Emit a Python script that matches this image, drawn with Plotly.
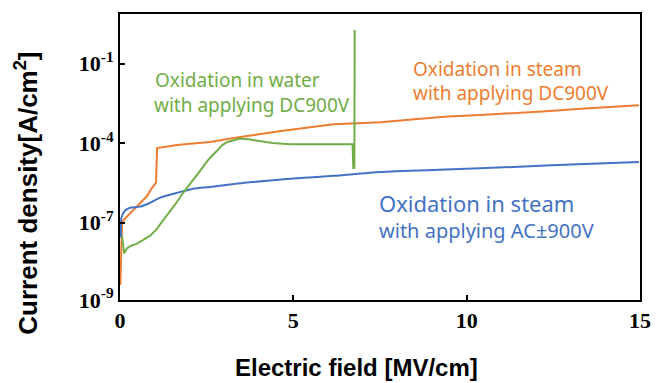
import plotly.graph_objects as go

# Electric field [MV/cm] and current density [A/cm2]
steam_dc_x = [0.01, 0.03, 0.06, 0.09, 0.29, 0.58, 0.78, 0.92, 1.04, 1.07, 1.65, 2.10, 2.60,
              3.27, 3.80, 4.25, 4.70, 5.20, 5.70, 6.16, 6.85, 7.51, 8.50, 9.45, 10.40,
              11.36, 12.30, 13.29, 14.20, 14.97]
steam_dc_y = [4.4e-10, 3.7e-9, 9.1e-8, 1.2e-7, 2.2e-7, 5.1e-7, 1.0e-6, 2.0e-6, 3.2e-6, 6.5e-5,
              8.4e-5, 9.6e-5, 1.1e-4, 1.55e-4, 1.9e-4, 2.4e-4, 2.9e-4, 3.6e-4, 4.3e-4, 5.1e-4,
              5.6e-4, 6.1e-4, 7.9e-4, 1.0e-3, 1.15e-3, 1.33e-3, 1.6e-3, 2.0e-3, 2.3e-3, 2.7e-3]

steam_ac_x = [0.03, 0.04, 0.14, 0.29, 0.58, 0.87, 1.16, 1.65, 2.11, 2.60, 3.40, 4.25,
              5.20, 6.16, 7.51, 9.40, 11.36, 13.20, 14.97]
steam_ac_y = [2.7e-8, 1.5e-7, 2.8e-7, 3.6e-7, 4.0e-7, 5.6e-7, 8.7e-7, 1.33e-6, 1.9e-6,
              2.2e-6, 3.0e-6, 3.8e-6, 4.8e-6, 5.8e-6, 8.1e-6, 1.0e-5, 1.26e-5, 1.6e-5, 1.94e-5]

water_dc_x = [0.05, 0.06, 0.12, 0.20, 0.30, 0.49, 0.67, 0.87, 1.05, 1.25, 1.45, 1.63, 1.82,
              2.02, 2.15, 2.31, 2.45, 2.60, 2.79, 2.95, 3.10, 3.27, 3.46, 3.70, 4.00, 4.40,
              4.90, 5.50, 6.20, 6.71, 6.73, 6.76, 6.77]
water_dc_y = [2.5e-8, 3.0e-8, 6.9e-9, 1.06e-8, 1.3e-8, 1.6e-8, 2.2e-8, 3.2e-8, 5.5e-8, 1.19e-7,
              2.6e-7, 5.7e-7, 1.33e-6, 2.8e-6, 4.9e-6, 8.9e-6, 1.6e-5, 2.8e-5, 5.0e-5, 8.4e-5,
              1.1e-4, 1.26e-4, 1.5e-4, 1.4e-4, 1.2e-4, 1.0e-4, 9.1e-5, 9.1e-5, 9.1e-5, 9.1e-5,
              1.15e-5, 1.15e-5, 1.88]

x_ticks = [0, 5, 10, 15]
y_tick_vals = [1e-1, 1e-4, 1e-7, 10 ** -9.925]
y_tick_text = ["10<sup>-1</sup>", "10<sup>-4</sup>", "10<sup>-7</sup>", "10<sup>-9</sup>"]

ORANGE = "#ED7D31"
BLUE = "#4472C4"
GREEN = "#70AD47"

fig = go.Figure()
fig.add_trace(go.Scatter(x=steam_dc_x, y=steam_dc_y, mode="lines",
                         line=dict(color=ORANGE, width=2)))
fig.add_trace(go.Scatter(x=steam_ac_x, y=steam_ac_y, mode="lines",
                         line=dict(color=BLUE, width=2, shape="spline", smoothing=0.6)))
fig.add_trace(go.Scatter(x=water_dc_x, y=water_dc_y, mode="lines",
                         line=dict(color=GREEN, width=2)))

lab_font = "Noto Sans"
annots = [
    dict(x=0.95, y=-1.6, text="Oxidation in water", color=GREEN, size=19),
    dict(x=0.92, y=-2.575, text="with applying DC900V", color=GREEN, size=19),
    dict(x=8.39, y=-1.19, text="Oxidation in steam", color=ORANGE, size=19),
    dict(x=8.39, y=-2.125, text="with applying DC900V", color=ORANGE, size=19),
    dict(x=7.41, y=-6.25, text="Oxidation in steam", color=BLUE, size=22),
    dict(x=7.40, y=-7.3, text="with applying AC±900V", color=BLUE, size=20),
]
for a in annots:
    fig.add_annotation(x=a["x"], y=a["y"], xref="x", yref="y", text=a["text"],
                       showarrow=False, xanchor="left", yanchor="middle",
                       font=dict(family=lab_font, size=a["size"], color=a["color"]))

fig.add_annotation(x=-0.179, y=0.375, xref="paper", yref="paper",
                   text="<b>Current density[A/cm<sup>2</sup>]</b>", textangle=-90,
                   showarrow=False,
                   font=dict(family="Liberation Sans", size=26, color="black"),
                   xanchor="center", yanchor="middle")
fig.add_annotation(x=0.454, y=-0.236, xref="paper", yref="paper",
                   text="<b>Electric field [MV/cm]</b>", showarrow=False,
                   font=dict(family="Liberation Sans", size=24, color="black"),
                   xanchor="center", yanchor="middle")

fig.update_layout(
    width=667, height=383,
    margin=dict(l=120, r=27, t=12, b=83),
    paper_bgcolor="white", plot_bgcolor="white",
    showlegend=False,
)
fig.update_xaxes(range=[0, 15], tickvals=x_ticks, ticktext=[f"<b>{v}</b>" for v in x_ticks],
                 ticks="inside", ticklen=5, tickwidth=1.5, tickcolor="black",
                 showline=True, linecolor="black", linewidth=2, mirror=True,
                 showgrid=False, zeroline=False,
                 tickfont=dict(family="Liberation Serif", size=22, color="black"))
fig.update_yaxes(type="log", range=[-9.925, 0.875], tickvals=y_tick_vals,
                 ticktext=[f"<b>{t}</b>" for t in y_tick_text],
                 ticks="inside", ticklen=5, tickwidth=1.5, tickcolor="black",
                 showline=True, linecolor="black", linewidth=2, mirror=True,
                 showgrid=False, zeroline=False,
                 tickfont=dict(family="Liberation Serif", size=22, color="black"))

fig.write_html("out.html")
